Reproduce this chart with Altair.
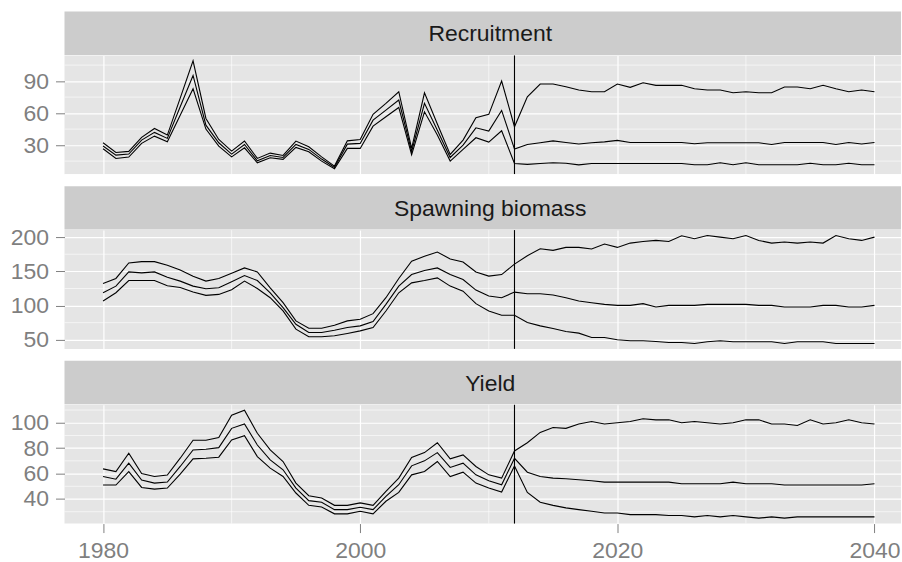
import altair as alt
import pandas as pd

years = list(range(1980, 2041))

rec_high = [32.2, 23.1, 24.1, 37.2, 45.6, 39.4, 74, 109, 55, 35.3,
            24.4, 33.8, 17.5, 22.5, 20.3, 33.8, 28.4, 19, 10.3, 34,
            35.3, 58.8, 69.1, 80, 27, 79, 49.7, 21.3, 34.7, 55.6,
            58.8, 90, 47.2,
            75.3, 87.2, 87.2, 84.7, 81.6, 80, 80,
            87.2, 84.1, 88.4, 86, 86, 86, 82.8, 81.6, 81.6, 79,
            80, 79, 79, 84.4, 84.4, 82.8, 86, 82.8, 80, 81.6, 80]
rec_mid = [29.1, 20.6, 21.6, 34.7, 41.9, 36.3, 66, 95.3, 48.7, 32.2,
           21.6, 30.6, 15.3, 20.3, 18.4, 30.6, 26, 16.9, 9.1, 30.9,
           31.6, 53.4, 62.8, 72.2, 24, 69.1, 44, 18.4, 30, 46.2,
           43.1, 62.5, 26.3,
           30.6, 32.2, 34, 32.5, 31, 32.2, 33,
           34.4, 32.5, 32.5, 32.5, 32.5, 32.5, 31.3, 32.2, 32.2, 32.2,
           32.2, 32.2, 30.6, 32.5, 32.5, 32.5, 32.5, 30.6, 32.5, 31, 32.5]
rec_low = [26.6, 17.5, 18.8, 31.6, 38.4, 33.1, 58, 82.8, 45, 29.1,
           19, 27.5, 13.4, 18.1, 16.6, 27.8, 23.7, 15, 7.8, 26.9,
           26.9, 47.8, 56.6, 65.3, 21, 61.2, 39.4, 15, 26, 36.9,
           32.8, 43.4, 12.8,
           11.9, 12.8, 13.4, 13, 11.5, 12.8, 12.8,
           12.8, 12.8, 12.8, 12.8, 12.8, 12.8, 11.6, 11.6, 13.4, 11.6,
           13.4, 11.6, 11.6, 11.6, 11.6, 13, 11.6, 11.6, 13, 11.6, 11.6]

ssb_high = [132.3, 139.6, 162.3, 164.2, 164.2, 158.9, 152.1, 143, 135.7, 139.6,
            147.3, 155, 149.2, 126, 104.2, 77.6, 66.9, 66.9, 71.3, 77.6,
            80, 88.2, 111.5, 139.6, 164.7, 172, 178.3, 168.1, 163.7, 149.2,
            143, 145.3, 160.6,
            172.9, 183.1, 180.7, 185, 185, 182.6, 189.9,
            185, 191.3, 193.7, 195.2, 193.7, 202, 197.6, 202.4, 200, 197.6,
            202.4, 195.2, 191.3, 192.8, 191.3, 192.8, 191.3, 202.4, 197.6, 195.2, 200]
ssb_mid = [118.7, 128.4, 149.2, 147.8, 149.2, 141.5, 135.7, 128.4, 124.6, 126,
           134.7, 143.9, 136.6, 118.7, 97, 72.7, 60.6, 60.6, 64, 67.9,
           70.3, 76.6, 101.8, 128.4, 145.3, 151.2, 155, 145.3, 138.1, 122.6,
           113.9, 111.5, 119.7,
           117.3, 117.3, 115.4, 111.5, 106.7, 104.2, 101.8,
           100.3, 100.3, 102.8, 98, 100.3, 100.3, 100.3, 101.8, 101.8, 101.8,
           101.8, 100.3, 100.3, 98, 98, 98, 100.3, 100.3, 98, 98, 100.3]
ssb_low = [106.6, 118.7, 136.6, 136.6, 136.6, 128.9, 126.5, 119.7, 114.9, 116.3,
           123.1, 135.7, 125, 111.5, 92.1, 65.5, 54.4, 54.4, 55.8, 59.2,
           63, 67.9, 92.1, 118.7, 133.2, 136.6, 140.5, 128.4, 121.1, 102.8,
           92.1, 85.8, 85.8,
           75.2, 70.3, 66.5, 62.1, 59.7, 53.4, 53.4,
           50, 48.5, 48.5, 47.6, 46.1, 46.1, 44.6, 47.1, 48.5, 47.1,
           47.1, 47.1, 47.1, 44.6, 47.1, 47.1, 47.1, 44.6, 44.6, 44.6, 44.6]

yld_high = [63.7, 61.6, 76, 60.1, 57.7, 58.8, 72.1, 86.2, 86.2, 88.3,
            106, 109.9, 91.7, 78.6, 69.5, 52.5, 42.6, 40.8, 35, 35,
            36.9, 35, 46, 56.4, 72.6, 76.5, 84.3, 71.6, 74.7, 65.6,
            59, 56.4, 77.8,
            84.3, 92.4, 96.3, 95.6, 99, 101, 99,
            100, 101, 103.1, 102.3, 102.3, 100, 101, 100, 99, 100,
            102.3, 102.3, 99, 99, 97.9, 102.3, 99, 100, 102.3, 100, 99]
yld_mid = [57.7, 55.6, 68.2, 54.9, 52.5, 53.3, 65.6, 78.6, 79.1, 80.4,
           95.6, 99, 82.5, 70.8, 63, 48.6, 38.7, 37.4, 31.6, 31.6,
           33.5, 31.6, 42.1, 51.2, 66.1, 70, 76.5, 64.8, 68.2, 59,
           54.3, 51.2, 72,
           61.1, 57.7, 56.4, 55.9, 55.1, 54.3, 53.3,
           53.3, 53.3, 53.3, 53.3, 53.3, 52, 52, 52, 52, 53.3,
           52, 52, 52, 51, 51, 51, 51, 51, 51, 51, 52]
yld_low = [51, 51, 61.6, 49.1, 47.8, 48.6, 59.6, 71.6, 72.1, 72.9,
           86.4, 89.8, 73.4, 64.3, 57.7, 44.7, 35, 33.7, 28.3, 28.3,
           30.3, 28.3, 38.2, 45.2, 59, 61.6, 69.5, 57.7, 61.1, 52.5,
           48.6, 45.5, 66,
           45.2, 37.4, 35, 33, 31.6, 30.3, 29,
           29, 27.7, 27.7, 27.7, 27, 27, 25.9, 27, 25.9, 27,
           25.9, 24.9, 25.9, 24.9, 25.9, 25.9, 25.9, 25.9, 25.9, 25.9, 25.9]

panel_names = ["Recruitment", "Spawning biomass", "Yield"]
panel_series = [(rec_low, rec_mid, rec_high),
                (ssb_low, ssb_mid, ssb_high),
                (yld_low, yld_mid, yld_high)]
major_y = [[30, 60, 90], [50, 100, 150, 200], [40, 60, 80, 100]]
minor_y = [[15, 45, 75, 105], [75, 125, 175], [30, 50, 70, 90, 110]]
major_x = [1980, 2000, 2020, 2040]
minor_x = [1990, 2010, 2030]
split_year = [2012]

W = 838
PANEL_H = 119
STRIP_H = 43.5
GAP_H = 12
X0 = 1977.0
PX_PER_YEAR = 12.88
X1 = X0 + W / PX_PER_YEAR

FONT = "Liberation Sans"
AXIS_GREY = "#7F7F7F"

x_scale = alt.Scale(domain=[X0, X1], nice=False, zero=False)


def make_panel(i, last):
    low, mid, high = panel_series[i]
    rows = []
    for name, vals in (("low", low), ("mid", mid), ("high", high)):
        for yr, v in zip(years, vals):
            rows.append({"year": yr, "value": v, "series": name})
    df = pd.DataFrame(rows)
    vmin = min(low + mid + high)
    vmax = max(low + mid + high)
    r = vmax - vmin
    y_scale = alt.Scale(domain=[vmin - 0.05 * r, vmax + 0.05 * r], nice=False, zero=False)

    xaxis = alt.Axis(values=major_x, format="d", title=None, grid=True, gridColor="white",
                     gridWidth=1.2, domain=False, labels=last, ticks=last,
                     tickSize=9, tickColor=AXIS_GREY, tickWidth=1,
                     labelFont=FONT, labelFontSize=23, labelColor=AXIS_GREY,
                     labelPadding=7)
    yaxis = alt.Axis(values=major_y[i], title=None, grid=True, gridColor="white",
                     gridWidth=1.2, domain=False, tickSize=9, tickColor=AXIS_GREY,
                     tickWidth=1, labelFont=FONT, labelFontSize=23,
                     labelColor=AXIS_GREY, labelPadding=7)

    X = alt.X("year:Q", scale=x_scale, axis=xaxis)
    Y = alt.Y("value:Q", scale=y_scale, axis=yaxis)

    xminor = alt.Chart(pd.DataFrame({"year": minor_x})).mark_rule(
        color="white", strokeWidth=0.6).encode(x=X)
    yminor = alt.Chart(pd.DataFrame({"value": minor_y[i]})).mark_rule(
        color="white", strokeWidth=0.6).encode(y=Y)
    lines = alt.Chart(df).mark_line(color="black", strokeWidth=1.1).encode(
        x=X, y=Y, detail="series:N")
    vline = alt.Chart(pd.DataFrame({"year": split_year})).mark_rule(
        color="black", strokeWidth=1.1).encode(x=X)
    return alt.layer(xminor, yminor, lines, vline).properties(width=W, height=PANEL_H)


def make_strip(i):
    return alt.Chart(pd.DataFrame({"label": [panel_names[i]]})).mark_text(
        font=FONT, fontSize=23, color="#1A1A1A", align="center", baseline="middle"
    ).encode(
        text="label:N", x=alt.value(426.5), y=alt.value(STRIP_H / 2 + 1)
    ).properties(width=W, height=STRIP_H,
                 view=alt.ViewBackground(fill="#CCCCCC", stroke=None))


def make_gap():
    return alt.Chart(pd.DataFrame({"label": [""]})).mark_text().encode(
        text="label:N", x=alt.value(0), y=alt.value(0)
    ).properties(width=W, height=GAP_H,
                 view=alt.ViewBackground(fill="white", stroke=None))


parts = []
for i in range(3):
    if i > 0:
        parts.append(make_gap())
    parts.append(make_strip(i))
    parts.append(make_panel(i, i == 2))

chart = alt.vconcat(*parts, spacing=0, bounds="flush").configure_view(
    stroke=None, fill="#E5E5E5"
).properties(
    padding={"left": 9.6, "top": 11, "right": 0, "bottom": 0},
    background="white"
)

chart.save("out.html", embed_options={"renderer": "svg", "actions": False})
